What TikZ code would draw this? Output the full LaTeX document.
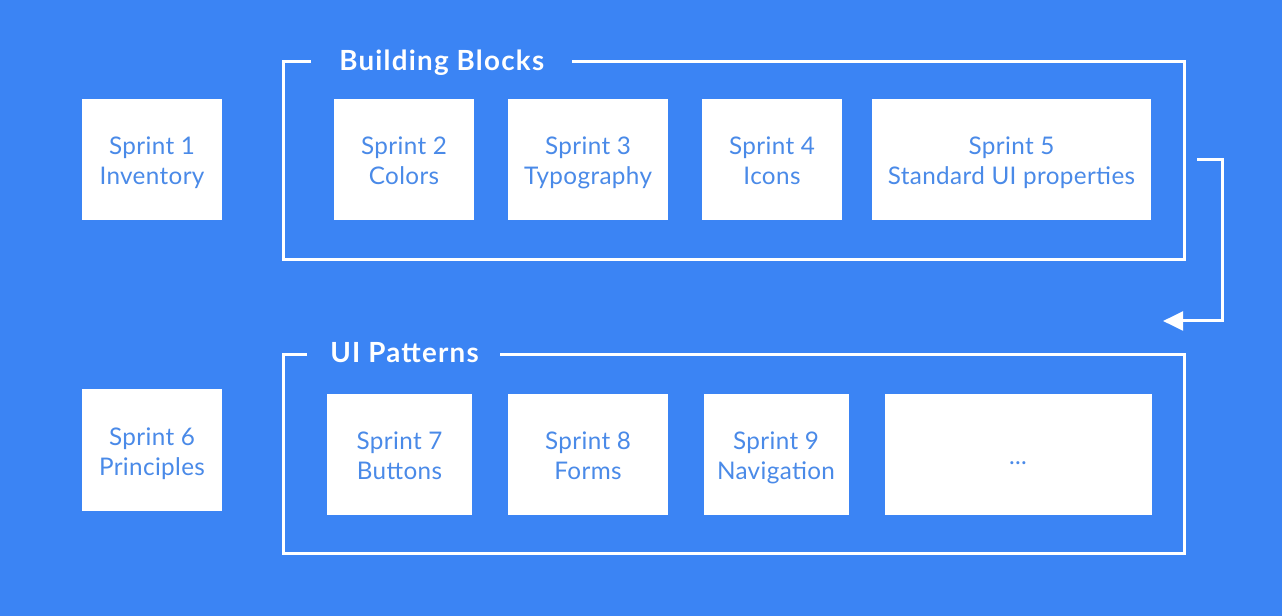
\documentclass[tikz,border=0pt]{standalone}
\usepackage{fontspec}
\setmainfont{Lato}
\usetikzlibrary{arrows.meta}
\definecolor{bg}{HTML}{3B84F4}
\definecolor{txt}{HTML}{4A8AE8}
\begin{document}
\begin{tikzpicture}[x=0.75pt,y=-0.75pt,
  sbox/.style={fill=white,draw=none,inner sep=0pt,align=center,text=txt,
    text height=37.5pt,text depth=0pt,
    font=\fontsize{18.2}{22.5}\selectfont\addfontfeature{LetterSpace=1.5}},
  ttl/.style={text=white,inner sep=0pt,anchor=base west,
    font=\fontsize{20.8}{24}\selectfont\bfseries\addfontfeature{LetterSpace=4.5}},
  frame/.style={draw=white,line width=2.25pt},
  flow/.style={draw=white,line width=2.25pt,-{Triangle[length=15pt,width=14pt]}}]
\fill[bg] (0,0) rectangle (1282,616);
\useasboundingbox (0,0) rectangle (1282,616);
% frames
\draw[frame] (572,62) -- (1184,62) -- (1184,260) -- (283,260) -- (283,62) -- (311,62);
\draw[frame] (500,355) -- (1184,355) -- (1184,553) -- (283,553) -- (283,355) -- (307,355);
\node[ttl] (t1) at (339,71) {Building Blocks};
\node[ttl] (t2) at (330,363) {UI Patterns};
% boxes
\newcommand{\sbx}[6]{\node[sbox,minimum width=#3*0.75pt,minimum height=#4*0.75pt] (#1) at (#2,#5) {#6};}
\sbx{s1}{152}{140}{121}{160}{Sprint 1\\Inventory}
\sbx{s2}{404}{140}{121}{160}{Sprint 2\\Colors}
\sbx{s3}{588}{160}{121}{160}{Sprint 3\\Typography}
\sbx{s4}{772}{140}{121}{160}{Sprint 4\\Icons}
\sbx{s5}{1011.5}{279}{121}{160}{Sprint 5\\Standard UI properties}
\sbx{s6}{152}{140}{121}{450}{Sprint 6\\Principles}
\sbx{s7}{399.5}{145}{121}{454.5}{Sprint 7\\Buttons}
\sbx{s8}{588}{160}{121}{454.5}{Sprint 8\\Forms}
\sbx{s9}{776}{145}{121}{454.5}{Sprint 9\\Navigation}
\node[sbox,text height=15pt,minimum width=267*0.75pt,minimum height=121*0.75pt] (s10) at (1018,454.5) {...};
% arrow
\coordinate (a0) at (1197,160);
\coordinate (a1) at (1222,160);
\coordinate (a2) at (1222,321);
\coordinate (a3) at (1163,321);
\draw[flow] (a0) -- (a1) -- (a2) -- (a3);
\end{tikzpicture}
\end{document}
